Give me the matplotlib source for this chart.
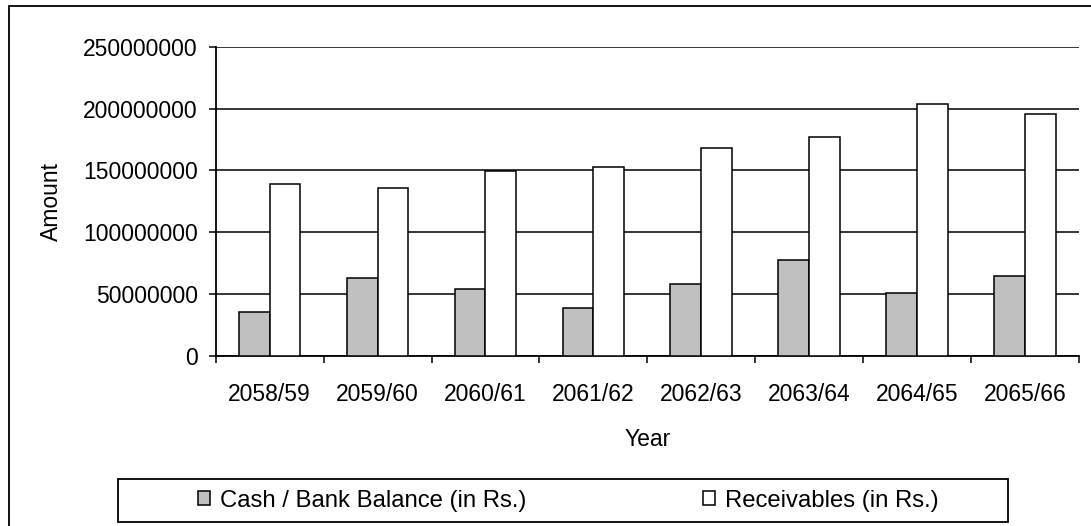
import numpy as np
import matplotlib.pyplot as plt
from matplotlib.patches import Rectangle

# data
years = ['2058/59', '2059/60', '2060/61', '2061/62',
         '2062/63', '2063/64', '2064/65', '2065/66']
cash = [35.1e6, 62.8e6, 53.7e6, 38.3e6, 58.3e6, 77.1e6, 50.4e6, 64.5e6]
receivables = [138.6e6, 135.7e6, 149.3e6, 152.6e6, 168.0e6, 177.2e6, 203.6e6, 195.8e6]
series_names = ['Cash / Bank Balance (in Rs.)', 'Receivables (in Rs.)']
y_ticks = [0, 50000000, 100000000, 150000000, 200000000, 250000000]

FONT = 'Liberation Sans'
FS = 16.5
LEG_FS = 17.2
GRAY = '#C0C0C0'
BAR_W = 1 / 3.5     # excel gap width 150%

plt.rcParams['font.family'] = [FONT, 'DejaVu Sans']

fig = plt.figure(figsize=(10.91, 5.26), dpi=100)
W, H = 1091, 526
ax = fig.add_axes([215.7 / W, (H - 355.7) / H, (1079 - 215.7) / W, (355.7 - 46.7) / H])

x = np.arange(len(years))
b1 = ax.bar(x - BAR_W / 2, cash, BAR_W, color=GRAY, edgecolor='black', lw=1.1, zorder=3)
b2 = ax.bar(x + BAR_W / 2, receivables, BAR_W, color='white', edgecolor='black', lw=1.1, zorder=3)

ax.set_xlim(-0.5, len(years) - 0.5)
ax.set_ylim(0, 250000000)
ax.set_yticks(y_ticks)
ax.set_yticklabels([str(v) for v in y_ticks], fontsize=FS)
ax.set_xticks(x)
ax.set_xticklabels(years, fontsize=FS)
ax.set_xticks(np.arange(len(years) + 1) - 0.5, minor=True)
ax.tick_params(axis='x', which='major', length=0, pad=20)
ax.tick_params(axis='x', which='minor', length=5, width=1.1, direction='out')
ax.tick_params(axis='y', length=5, width=1.1, direction='out', pad=8)

ax.yaxis.grid(True, color='black', lw=1.1, zorder=0)
ax.set_axisbelow(True)
for s in ['top', 'right']:
    ax.spines[s].set_visible(False)
ax.spines['left'].set_linewidth(1.3)
ax.spines['bottom'].set_linewidth(1.3)

ax.set_xlabel('Year', fontsize=FS, labelpad=15.5)
ax.set_ylabel('Amount', fontsize=FS, labelpad=14)

# outer chart border, runs off the right and bottom edges
fig.patches.append(Rectangle((9 / W, -0.05), 1.1, (H - 6) / H + 0.05, transform=fig.transFigure,
                             fill=False, edgecolor='black', lw=1.3))
# legend box
fig.patches.append(Rectangle((118 / W, (H - 522) / H), (1008 - 118) / W, 43 / H,
                             transform=fig.transFigure, fill=False, edgecolor='black', lw=1.3))

leg = fig.legend([b1, b2], series_names, loc='center', ncol=2,
                 bbox_to_anchor=(568.5 / W, (H - 500.5) / H), frameon=False,
                 fontsize=LEG_FS, handlelength=0.5, handleheight=0.5,
                 handletextpad=0.42, columnspacing=7.4)

fig.savefig('out.png', dpi=100)
